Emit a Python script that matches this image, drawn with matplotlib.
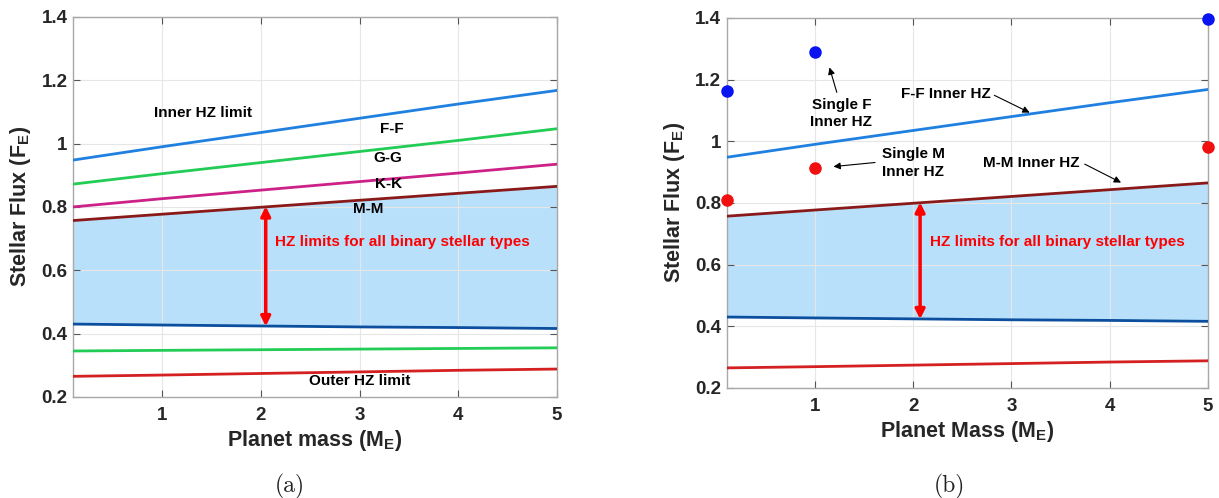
import numpy as np
import matplotlib.pyplot as plt

plt.rcParams['font.family'] = ['Liberation Sans', 'DejaVu Sans']
plt.rcParams['font.weight'] = 'bold'
plt.rcParams['axes.labelweight'] = 'bold'
plt.rcParams['mathtext.default'] = 'regular'

# planet mass grid (Earth masses)
mass = [0.1, 1, 2, 3, 4, 5]

# inner HZ limits for binary pairs
inner_ff = [0.948, 0.990, 1.035, 1.080, 1.125, 1.168]
inner_gg = [0.872, 0.905, 0.940, 0.975, 1.010, 1.047]
inner_kk = [0.800, 0.826, 0.853, 0.880, 0.907, 0.935]
inner_mm = [0.757, 0.777, 0.799, 0.821, 0.843, 0.865]

# outer HZ limits
outer_1 = [0.430, 0.427, 0.424, 0.421, 0.419, 0.416]
outer_2 = [0.345, 0.347, 0.349, 0.351, 0.353, 0.355]
outer_3 = [0.265, 0.269, 0.274, 0.279, 0.284, 0.288]

# single star inner HZ points
single_mass = [0.1, 1, 5]
single_f = [1.163, 1.290, 1.395]
single_m = [0.810, 0.913, 0.980]

yticks = [0.2, 0.4, 0.6, 0.8, 1.0, 1.2, 1.4]
ytick_labels = ['0.2', '0.4', '0.6', '0.8', '1', '1.2', '1.4']
xticks = [1, 2, 3, 4, 5]

c_ff = '#1f80e0'
c_gg = '#22cc55'
c_kk = '#cc2288'
c_mm = '#8a1a1a'
c_out1 = '#0b4f9e'
c_out3 = '#d42020'
fill_c = '#b9e0fb'

fig = plt.figure(figsize=(12.19, 4.98), dpi=100)
ax1 = fig.add_axes([0.060, 0.203, 0.397, 0.763])
ax2 = fig.add_axes([0.596, 0.221, 0.395, 0.743])


def style(ax, xlabel):
    ax.set_xlim(0.1, 5)
    ax.set_ylim(0.2, 1.4)
    ax.set_xticks(xticks)
    ax.set_yticks(yticks)
    ax.set_yticklabels(ytick_labels)
    ax.tick_params(direction='in', top=True, right=True, labelsize=13.5,
                   colors='#555555', labelcolor='#262626', length=5)
    ax.tick_params(axis='x', pad=7)
    ax.tick_params(axis='y', pad=4)
    ax.grid(True, color='#e6e6e6', lw=0.8)
    for s in ax.spines.values():
        s.set_color('#a8a8a8')
        s.set_linewidth(1.0)
    ax.set_xlabel(xlabel, fontsize=15.5, color='#262626', labelpad=3)
    ax.set_ylabel('Stellar Flux (F$_E$)', fontsize=15.5, color='#262626', labelpad=6)


def band(ax):
    ax.fill_between(mass, outer_1, inner_mm, color=fill_c, zorder=1, lw=0)
    ax.plot(mass, inner_ff, color=c_ff, lw=2, zorder=3)
    ax.plot(mass, inner_mm, color=c_mm, lw=2, zorder=3)
    ax.plot(mass, outer_1, color=c_out1, lw=2, zorder=3)
    ax.plot(mass, outer_3, color=c_out3, lw=2, zorder=3)


# panel (a)
band(ax1)
ax1.plot(mass, inner_gg, color=c_gg, lw=2, zorder=3)
ax1.plot(mass, inner_kk, color=c_kk, lw=2, zorder=3)
ax1.plot(mass, outer_2, color=c_gg, lw=2, zorder=3)
style(ax1, 'Planet mass (M$_E$)')

txt = dict(fontsize=11, ha='center', va='center', color='black', fontweight='bold')
ax1.text(1.41, 1.097, 'Inner HZ limit', **txt)
ax1.text(3.33, 1.046, 'F-F', **txt)
ax1.text(3.29, 0.955, 'G-G', **txt)
ax1.text(3.29, 0.873, 'K-K', **txt)
ax1.text(3.09, 0.794, 'M-M', **txt)
ax1.text(3.0, 0.250, 'Outer HZ limit', **txt)
ax1.text(2.14, 0.69, 'HZ limits for all binary stellar types', fontsize=11,
         ha='left', va='center', color='red', fontweight='bold')
ax1.annotate('', xy=(2.05, 0.802), xytext=(2.05, 0.423),
             arrowprops=dict(arrowstyle='<|-|>', color='red', lw=2.5,
                             mutation_scale=14, shrinkA=0, shrinkB=0), zorder=4)

# panel (b)
band(ax2)
ax2.plot(single_mass, single_f, 'o', color='#0a14f0', ms=8, zorder=5, clip_on=False)
ax2.plot(single_mass, single_m, 'o', color='#f01010', ms=8, zorder=5, clip_on=False)
style(ax2, 'Planet Mass (M$_E$)')

arrow = dict(arrowstyle='-|>', color='black', lw=0.8, mutation_scale=10)
ax2.text(1.27, 1.089, 'Single F\nInner HZ', linespacing=1.3, **txt)
ax2.annotate('', xy=(1.14, 1.248), xytext=(1.23, 1.150), arrowprops=arrow)
ax2.text(2.33, 1.153, 'F-F Inner HZ', **txt)
ax2.annotate('', xy=(3.21, 1.089), xytext=(2.80, 1.153), arrowprops=arrow)
ax2.text(2.0, 0.930, 'Single M\nInner HZ', linespacing=1.3, **txt)
ax2.annotate('', xy=(1.16, 0.917), xytext=(1.64, 0.932), arrowprops=arrow)
ax2.text(3.2, 0.930, 'M-M Inner HZ', **txt)
ax2.annotate('', xy=(4.14, 0.862), xytext=(3.72, 0.930), arrowprops=arrow)
ax2.text(2.17, 0.673, 'HZ limits for all binary stellar types', fontsize=11,
         ha='left', va='center', color='red', fontweight='bold')
ax2.annotate('', xy=(2.07, 0.802), xytext=(2.07, 0.423),
             arrowprops=dict(arrowstyle='<|-|>', color='red', lw=2.5,
                             mutation_scale=14, shrinkA=0, shrinkB=0), zorder=4)

# captions
fig.text(0.238, 0.024, '(a)', fontsize=17, ha='center', va='center',
         family='cmr10', fontweight='normal', color='#222222')
fig.text(0.779, 0.024, '(b)', fontsize=17, ha='center', va='center',
         family='cmr10', fontweight='normal', color='#222222')

fig.savefig('out.png', dpi=100)
